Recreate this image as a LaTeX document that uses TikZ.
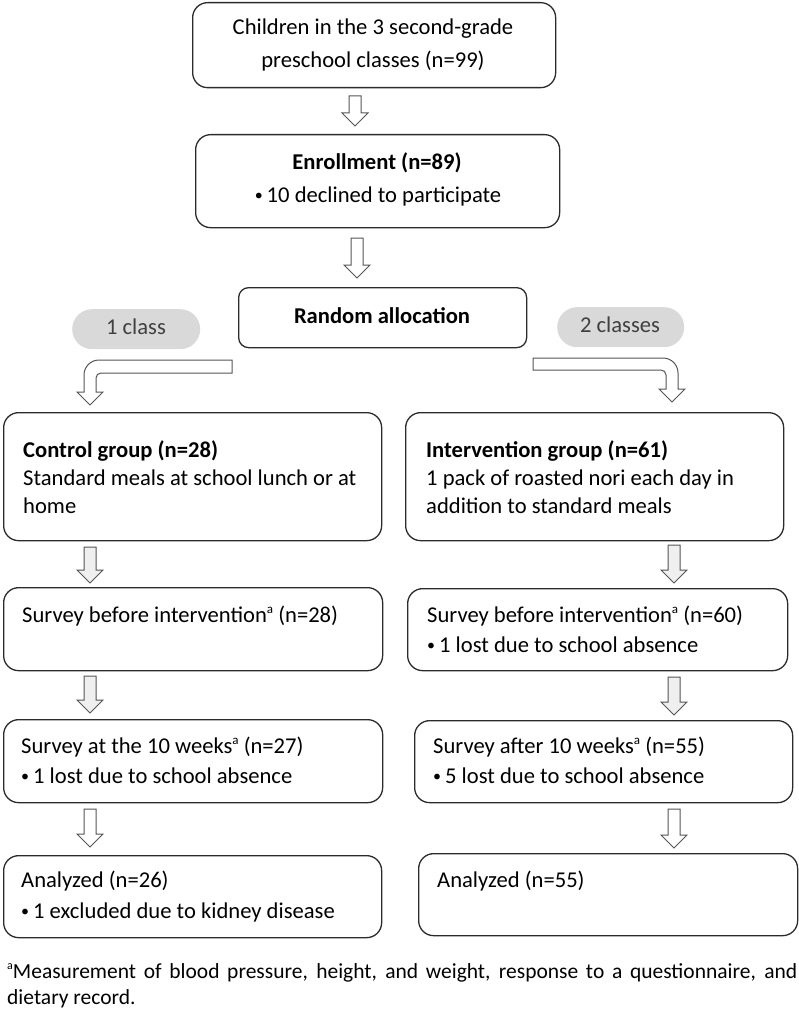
\documentclass[tikz,border=0pt]{standalone}
\usepackage{fontspec}
\setmainfont{Carlito}
\usetikzlibrary{calc}
\definecolor{boxline}{HTML}{2B2B2B}
\definecolor{arrline}{HTML}{555555}
\definecolor{pillfill}{HTML}{D9D9D9}
\definecolor{arrfill}{HTML}{EFEFEF}
\newcommand\blockarrow[4]{% fill, x, ytop, ytip
  \draw[barrow, fill=#1] (#2-6,#3) -- (#2-6,#4-13) -- (#2-13,#4-13) -- (#2,#4)
    -- (#2+13,#4-13) -- (#2+6,#4-13) -- (#2+6,#3) -- cycle;}
\newcommand\bul{{\fontsize{16}{16}\selectfont\raisebox{1.5pt}{•}}\hspace{4pt}}
\newcommand\supa{\raisebox{9pt}{\fontsize{13}{13}\selectfont a}}
\begin{document}
\begin{tikzpicture}[x=1pt,y=-1pt,
  font=\fontsize{22.6}{26}\selectfont,
  box/.style={draw=boxline, line width=1.3pt, rounded corners=15pt, anchor=north west, inner sep=0pt},
  pill/.style={fill=pillfill, rounded corners=20pt, anchor=north west, inner sep=0pt},
  txt/.style={inner sep=0pt, anchor=base west},
  ctxt/.style={inner sep=0pt, anchor=base},
  barrow/.style={draw=arrline, line width=1pt, line join=miter}]
\useasboundingbox (0,0) rectangle (799,1019);
% boxes
\node[box, minimum width=363pt, minimum height=85pt] (top) at (192,2) {};
\node[box, minimum width=364pt, minimum height=93pt] (enroll) at (195,134) {};
\node[box, rounded corners=10pt, minimum width=288pt, minimum height=60pt] (rand) at (238,287) {};
\node[pill, minimum width=128pt, minimum height=40pt] (pill1) at (72,309) {};
\node[pill, minimum width=127pt, minimum height=40pt] (pill2) at (557,307) {};
\node[box, minimum width=378pt, minimum height=128pt] (ctrl) at (3,412) {};
\node[box, minimum width=378pt, minimum height=128pt] (intv) at (405,412) {};
\node[box, minimum width=379pt, minimum height=83pt] (sbL) at (3,587) {};
\node[box, minimum width=380pt, minimum height=82pt] (sbR) at (407,588) {};
\node[box, minimum width=379pt, minimum height=83pt] (stL) at (3,719) {};
\node[box, minimum width=378pt, minimum height=82pt] (stR) at (414,720) {};
\node[box, minimum width=378pt, minimum height=82pt] (anL) at (3,855) {};
\node[box, minimum width=379pt, minimum height=82pt] (anR) at (418,853) {};
% texts
\node[ctxt] (t1) at (373,35) {Children in the 3 second-grade};
\node[ctxt] (t2) at (373,68) {preschool classes (n=99)};
\node[ctxt] (e1) at (377,170) {\bfseries Enrollment (n=89)};
\node[ctxt] (e2) at (378,202) {\bul 10 declined to participate};
\node[ctxt] (r1) at (382,323) {\bfseries Random allocation};
\node[ctxt, text=black!75] (p1) at (136,334) {1 class};
\node[ctxt, text=black!75] (p2) at (620,332) {2 classes};
\node[txt] (c1) at (23,457) {\bfseries Control group (n=28)};
\node[txt] (c2) at (23,485) {Standard meals at school lunch or at};
\node[txt] (c3) at (23,513) {home};
\node[txt] (i1) at (426,457) {\bfseries Intervention group (n=61)};
\node[txt] (i2) at (426,485) {1 pack of roasted nori each day in};
\node[txt] (i3) at (426,513) {addition to standard meals};
\node[txt] (sl1) at (22,622) {Survey before intervention\supa{} (n=28)};
\node[txt] (sr1) at (427,622) {Survey before intervention\supa{} (n=60)};
\node[txt] (sr2) at (427,652) {\bul 1 lost due to school absence};
\node[txt] (tl1) at (21,753) {Survey at the 10 weeks\supa{} (n=27)};
\node[txt] (tl2) at (21,783) {\bul 1 lost due to school absence};
\node[txt] (tr1) at (433,753) {Survey after 10 weeks\supa{} (n=55)};
\node[txt] (tr2) at (433,783) {\bul 5 lost due to school absence};
\node[txt] (al1) at (21,887) {Analyzed (n=26)};
\node[txt] (al2) at (21,918) {\bul 1 excluded due to kidney disease};
\node[txt] (ar1) at (437,887) {Analyzed (n=55)};
% footnote
\node[txt, font=\fontsize{21.5}{25}\selectfont] (f1) at (7,978) {\makebox[790pt][s]{\raisebox{9pt}{\fontsize{12}{12}\selectfont a}Measurement of blood pressure, height, and weight, response to a questionnaire, and}};
\node[txt, font=\fontsize{21.5}{25}\selectfont] (f2) at (7,1004) {dietary record.};
% straight block arrows
\blockarrow{white}{355}{96}{126}
\blockarrow{white}{357}{238}{278}
\blockarrow{arrfill}{90}{547}{583}
\blockarrow{arrfill}{90}{676}{713}
\blockarrow{white}{90}{809}{847}
\blockarrow{arrfill}{674}{545}{583}
\blockarrow{arrfill}{674}{677}{715}
\blockarrow{white}{674}{809}{848}
% bent block arrows
\draw[barrow, fill=white] (232,360) -- (99,360) .. controls (90.7,360) and (84,366.7) .. (84,375)
  -- (84,392) -- (77,392) -- (90,405) -- (103,392) -- (96,392) -- (96,378)
  .. controls (96,375.2) and (98.2,373) .. (101,373) -- (232,373) -- cycle;
\draw[barrow, fill=white] (533,358) -- (663,358) .. controls (671.3,358) and (678,364.7) .. (678,373)
  -- (678,389) -- (685,389) -- (672,402) -- (659,389) -- (666,389) -- (666,375)
  .. controls (666,372.2) and (663.8,370) .. (661,370) -- (533,370) -- cycle;
\end{tikzpicture}
\end{document}
